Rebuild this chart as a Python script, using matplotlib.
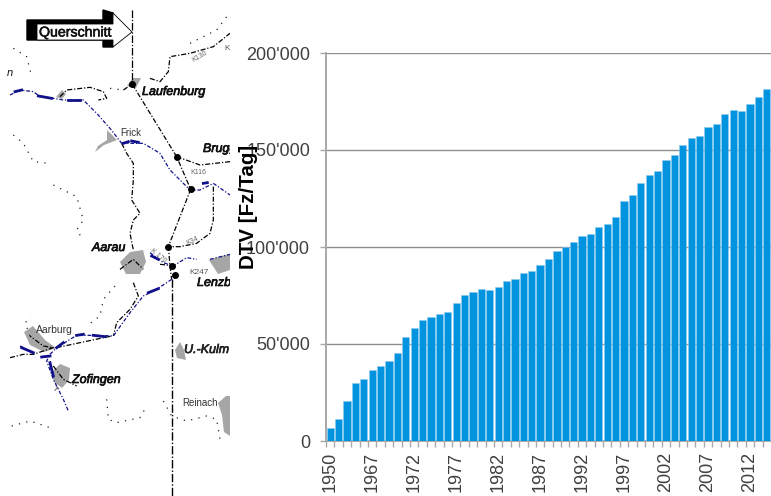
import matplotlib
matplotlib.use("Agg")
import numpy as np
import matplotlib.pyplot as plt
import matplotlib.patheffects as pe
from matplotlib.patches import Polygon

plt.rcParams["font.family"] = ["Liberation Sans", "DejaVu Sans"]

################### data ######################
# only every 5th category has a visible label
year_labels = ["1950", "", "", "", "", "1967", "", "", "", "", "1972", "", "", "", "",
               "1977", "", "", "", "", "1982", "", "", "", "", "1987", "", "", "", "",
               "1992", "", "", "", "", "1997", "", "", "", "", "2002", "", "", "", "",
               "2007", "", "", "", "", "2012", "", ""]
dtv = [6700, 11300, 20750, 30000, 32200, 36400, 38800, 41000, 45600, 53850,
       58500, 62600, 63800, 65500, 66600, 71300, 75400, 77000, 78200, 77700,
       79400, 82300, 83700, 86400, 87400, 90500, 94000, 98100, 99800, 102700,
       105600, 106800, 110400, 112000, 115600, 123600, 127000, 132900, 137000, 139400,
       144600, 147500, 152800, 156200, 157400, 162000, 163200, 168600, 170800, 170100,
       173700, 177300, 181200]
y_ticks = [0, 50000, 100000, 150000, 200000]
y_tick_labels = ["0", "50'000", "100'000", "150'000", "200'000"]

# map linework, read off the zoomed crops
# upper part of the map: zoom coords / 3
blue_upper = [
    [(30, 285), (60, 270), (100, 275), (120, 290), (160, 295), (190, 300), (250, 300),
     (290, 340), (330, 385), (365, 430)],
    [(365, 430), (430, 430), (480, 460), (510, 510), (570, 570), (600, 570), (640, 550), (690, 585)],
]
blue_thick_upper = [
    [(45, 275), (65, 270)], [(115, 288), (155, 295)], [(205, 300), (240, 300)],
    [(370, 430), (385, 425)], [(395, 423), (415, 427)], [(610, 550), (622, 548)],
]
black_upper = [
    [(397, 253), (530, 470), (572, 568), (505, 740)],
    [(450, 235), (480, 245), (505, 215), (510, 170), (570, 160), (640, 140), (690, 100)],
    [(180, 290), (200, 270), (270, 262), (310, 275), (320, 295), (295, 300)],
    [(370, 270), (400, 250)],
    [(365, 430), (380, 460), (400, 490), (400, 540), (395, 600), (420, 640), (400, 660),
     (390, 700), (400, 750)],
    [(530, 470), (600, 495), (690, 485)],
    [(640, 560), (640, 660), (630, 700), (590, 730), (540, 740), (500, 740)],
]
dotted_upper = [
    [(570, 130), (650, 90), (680, 50)],
    [(330, 265), (370, 270)],
    [(40, 145), (80, 170), (95, 230)],
    [(40, 405), (70, 430), (100, 485), (150, 490)],
    [(160, 555), (230, 590), (250, 660), (230, 690), (250, 720)],
]
# lower part of the map: zoom coords / 3, shifted by 246
blue_lower = [
    [(515, 100), (470, 130), (430, 150), (390, 200), (340, 270), (280, 268), (230, 268),
     (170, 305), (150, 325), (140, 345), (160, 400), (190, 460), (205, 495)],
    [(60, 300), (100, 320)],
    [(450, 20), (490, 50), (520, 60), (560, 35), (590, 40)],
    [(630, 40), (690, 25)],
]
blue_thick_lower = [
    [(280, 268), (315, 272)], [(230, 268), (250, 265)], [(170, 305), (190, 290)],
    [(445, 140), (475, 128)], [(150, 350), (160, 390)], [(65, 305), (100, 320)],
    [(125, 333), (150, 330)], [(455, 30), (475, 40)],
]
black_lower = [
    [(505, 0), (510, 60), (515, 100)],
    [(400, 110), (415, 150), (390, 190), (350, 230), (340, 270)],
    [(170, 305), (240, 290), (335, 270)],
    [(30, 335), (70, 325), (100, 325), (160, 305), (130, 300), (90, 270)],
    [(160, 360), (190, 400), (230, 420)],
    [(480, 55), (530, 60)],
    [(360, 70), (400, 40), (430, 70)],
]
dotted_lower = [
    [(345, 120), (310, 160), (300, 210), (260, 240)],
    [(90, 270), (75, 230), (95, 215)],
    [(320, 460), (325, 520), (350, 530), (420, 515), (440, 480)],
    [(490, 465), (515, 510), (560, 525), (620, 510), (650, 520), (660, 580)],
    [(35, 540), (90, 525), (150, 545)],
]
town_blobs = [
    [(127, 86), (133, 78), (141, 78), (136, 88)],
    [(56, 97), (62, 90), (66, 94), (62, 99)],
    [(95, 152), (98, 146), (107, 140), (107, 130), (117, 140), (104, 145)],
    [(120, 262), (130, 252), (143, 250), (146, 262), (140, 274), (126, 274)],
    [(209, 260), (222, 256), (230, 254), (230, 270), (218, 274)],
    [(24, 332), (33, 326), (45, 340), (56, 348), (44, 352), (30, 345)],
    [(52, 372), (60, 364), (70, 368), (69, 380), (62, 388), (54, 382)],
    [(175, 350), (180, 342), (184, 350), (186, 360), (177, 358)],
    [(218, 403), (226, 396), (230, 396), (230, 436), (224, 432), (222, 415)],
]
town_names = [
    ("Laufenburg", 142, 92, 9, "#111111", True),
    ("Brugg", 203, 149, 9, "#111111", True),
    ("Aarau", 92, 248, 9, "#111111", True),
    ("Lenzburg", 197, 283, 9, "#111111", True),
    ("U.-Kulm", 184, 350, 9, "#222222", True),
    ("Zofingen", 72, 380, 9, "#111111", True),
    ("Frick", 120, 133, 7, "#333333", False),
    ("Aarburg", 36, 330, 7.5, "#333333", False),
    ("Reinach", 182, 403, 7, "#333333", False),
    ("K116", 190, 172, 5, "#666666", False),
    ("K247", 189, 273, 6, "#555555", False),
    ("K", 224, 49, 6, "#555555", False),
]

################### config ######################
W, H = 771, 496
BAR_COLOR = "#0093e0"
TEXT_COLOR = "#404040"
AXIS_COLOR = "#a8a8a8"
GRID_COLOR = "#8f8f8f"
ROAD_BLUE = "#10108a"
TOWN_GRAY = "#a6a6a6"
PX = 72 / 100  # one pixel in points


def upper(pts):
    return [(x / 3, y / 3) for x, y in pts]


def lower(pts):
    return [(x / 3, 246 + y / 3) for x, y in pts]


def draw_road(ax, pts, **kw):
    xs, ys = zip(*pts)
    ax.plot(xs, ys, **kw)


fig = plt.figure(figsize=(W / 100, H / 100), dpi=100)

# map on the left, axes in pixel coords
ax_map = fig.add_axes([0, 0, 230 / W, 1])
ax_map.set_xlim(0, 230)
ax_map.set_ylim(H, 0)
ax_map.axis("off")

for blob in town_blobs:
    ax_map.add_patch(Polygon(blob, closed=True, facecolor=TOWN_GRAY, edgecolor="none", zorder=1))

for lines, conv in [(black_upper, upper), (black_lower, lower)]:
    for pts in lines:
        draw_road(ax_map, conv(pts), color="black", lw=0.9, ls=(0, (4, 1.5, 1, 1.5)), zorder=2)
for lines, conv in [(dotted_upper, upper), (dotted_lower, lower)]:
    for pts in lines:
        draw_road(ax_map, conv(pts), color="#222222", lw=0.9, ls=(0, (1, 5)), zorder=2)
for lines, conv in [(blue_upper, upper), (blue_lower, lower)]:
    for pts in lines:
        draw_road(ax_map, conv(pts), color=ROAD_BLUE, lw=0.9, ls=(0, (3, 1.5, 1, 1.5)), zorder=3)
for lines, conv in [(blue_thick_upper, upper), (blue_thick_lower, lower)]:
    for pts in lines:
        draw_road(ax_map, conv(pts), color=ROAD_BLUE, lw=2.0, zorder=3)

# section line
ax_map.plot([132, 132], [10, 84], color="black", lw=0.9, ls=(0, (6, 1.5, 1, 1.5)), zorder=4)
ax_map.plot([172, 172], [279, 496], color="black", lw=1.0, ls=(0, (6, 1.5, 1, 1.5)), zorder=4)

# junctions
ax_map.plot([132, 177, 191, 168, 172, 175], [84, 157, 189, 247, 266, 275], ls="none",
            marker="o", ms=4, color="black", zorder=5)

for name, x, y, size, col, is_big in town_names:
    t = ax_map.text(x, y, name, fontsize=size, color=col, style="italic" if is_big else "normal",
                    ha="left", va="center", clip_on=True, zorder=6)
    if is_big:
        t.set_path_effects([pe.withStroke(linewidth=0.5, foreground=col)])
ax_map.text(200, 57, "K130", fontsize=5, color="#666666", rotation=30, ha="center", va="center", zorder=6)
ax_map.text(192, 241, "K34", fontsize=5, color="#666666", rotation=25, ha="center", va="center", zorder=6)
ax_map.text(158, 256, "K 170", fontsize=5, color="#666666", rotation=-40, ha="center", va="center", zorder=6)
ax_map.text(55, 389, "T", fontsize=6, color="#555555", rotation=-40, ha="center", va="center", zorder=6)
ax_map.text(13, 73, "n", fontsize=8, color="#111111", ha="right", va="center", style="italic", zorder=6,
            clip_on=True)

# arrow "Querschnitt": black shadow, white arrow on top
ax_map.add_patch(Polygon([(27, 20), (103, 20), (103, 10), (113, 13), (113, 47), (103, 47), (103, 40), (27, 40)],
                         closed=True, facecolor="black", edgecolor="black", zorder=7))
ax_map.add_patch(Polygon([(37, 24), (113, 24), (113, 13), (132, 32), (113, 47), (113, 40), (37, 40)],
                         closed=True, facecolor="white", edgecolor="black", lw=0.6, zorder=8))
t = ax_map.text(39, 32.5, "Querschnitt", fontsize=10.2, color="#111111", ha="left", va="center", zorder=9)
t.set_path_effects([pe.withStroke(linewidth=0.4, foreground="#111111")])

# bar chart on the right
left, right, top, bottom = 326, 771, 53, 441
ax = fig.add_axes([left / W, 1 - bottom / H, (right - left) / W, (bottom - top) / H])
x = np.arange(len(dtv))
ax.bar(x, dtv, width=0.86, color=BAR_COLOR, edgecolor="#8fcbf0", linewidth=0.4, zorder=3)
ax.set_xlim(-0.5, len(dtv) - 0.5)
ax.set_ylim(0, 200000)

ax.set_yticks(y_ticks)
ax.set_yticklabels(y_tick_labels, fontsize=13, color=TEXT_COLOR)
# tick marks sit between the bars, labels on the bars
ax.set_xticks(x)
ax.set_xticklabels(year_labels, fontsize=13, color=TEXT_COLOR, rotation=90)
ax.set_xticks(x - 0.5, minor=True)
ax.tick_params(axis="x", which="major", length=0, pad=11 * PX)
ax.tick_params(axis="x", which="minor", length=6 * PX, width=1.0, color=AXIS_COLOR)
ax.tick_params(axis="y", length=6 * PX, width=1.0, color=AXIS_COLOR, pad=10 * PX)
ax.grid(axis="y", color=GRID_COLOR, lw=1.0, zorder=0)
ax.set_axisbelow(True)
for side in ["top", "right"]:
    ax.spines[side].set_visible(False)
for side in ["left", "bottom"]:
    ax.spines[side].set_color(AXIS_COLOR)
    ax.spines[side].set_linewidth(1.4)

# y label sits over the tick labels in the original
fig.text(248 / W, 1 - 207 / H, "DTV [Fz/Tag]", fontsize=14.8, fontweight="bold", color="black",
         rotation=90, ha="center", va="center", zorder=10)

fig.savefig("out.png", dpi=100)
